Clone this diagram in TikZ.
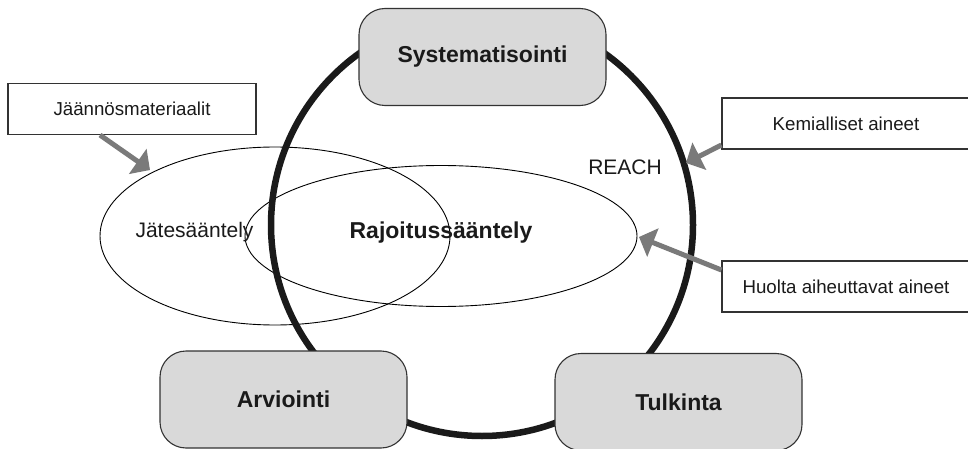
\documentclass[tikz,border=0pt]{standalone}
\usepackage{fontspec}
\setmainfont{Liberation Sans}
\usetikzlibrary{arrows.meta,shapes.geometric}
\definecolor{boxfill}{HTML}{D9D9D9}
\definecolor{boxline}{HTML}{333333}
\definecolor{ringcol}{HTML}{1A1A1A}
\definecolor{arrcol}{HTML}{7A7A7A}
\tikzset{
  gbox/.style={draw=boxline, line width=1.1pt, fill=boxfill, rounded corners=26pt,
    inner sep=0pt, minimum width=247pt, minimum height=97pt,
    font=\fontsize{23}{27}\selectfont\bfseries, text=ringcol},
  wbox/.style={draw=boxline, line width=1.1pt, fill=white, inner sep=0pt,
    minimum width=248pt, minimum height=51pt, font=\fontsize{18.7}{22}\selectfont, text=ringcol},
  ell/.style={draw=black, line width=0.9pt, ellipse, inner sep=0pt, outer sep=0pt},
  lbl/.style={font=\fontsize{21}{25}\selectfont, text=ringcol, inner sep=0pt},
  garrow/.style={draw=arrcol, line width=5pt, -{Triangle[length=15pt,width=30pt]}},
}
\begin{document}
\begin{tikzpicture}[x=1pt,y=-1pt]
\clip (0,0) rectangle (968,449);
\fill[white] (0,0) rectangle (968,449);
% ellipses
\node[ell, minimum width=350pt, minimum height=178pt] (jate) at (275,236) {};
\node[ell, minimum width=392pt, minimum height=141pt] (rajo) at (441,236) {};
% ring
\node[draw=ringcol, line width=6.5pt, circle, minimum size=422pt, inner sep=0pt] (ring) at (482,225) {};
% rounded boxes
\node[gbox] (sys) at (482.5,57) {Systematisointi};
\node[gbox] (arv) at (283.5,399.5) {Arviointi};
\node[gbox] (tul) at (678.5,402) {Tulkinta};
% labels
\node[lbl] (jl) at (194.5,232) {Jätesääntely};
\node[lbl] (reach) at (625,167) {REACH};
\node[lbl, font=\fontsize{23}{27}\selectfont\bfseries] (rl) at (441,233) {Rajoitussääntely};
% side boxes
\node[wbox] (jm) at (132,109) {Jäännösmateriaalit};
\node[wbox] (km) at (846,123.5) {Kemialliset aineet};
\node[wbox] (hu) at (846,286.5) {Huolta aiheuttavat aineet};
% arrow tips
\coordinate (t1) at (150,170);
\coordinate (t2) at (686,163);
\coordinate (t3) at (639,237);
\draw[garrow] ([xshift=-32pt]jm.south) -- (t1);
\draw[garrow] ([yshift=-21.5pt]km.west) -- (t2);
\draw[garrow] ([yshift=16.5pt]hu.west) -- (t3);
\end{tikzpicture}
\end{document}
